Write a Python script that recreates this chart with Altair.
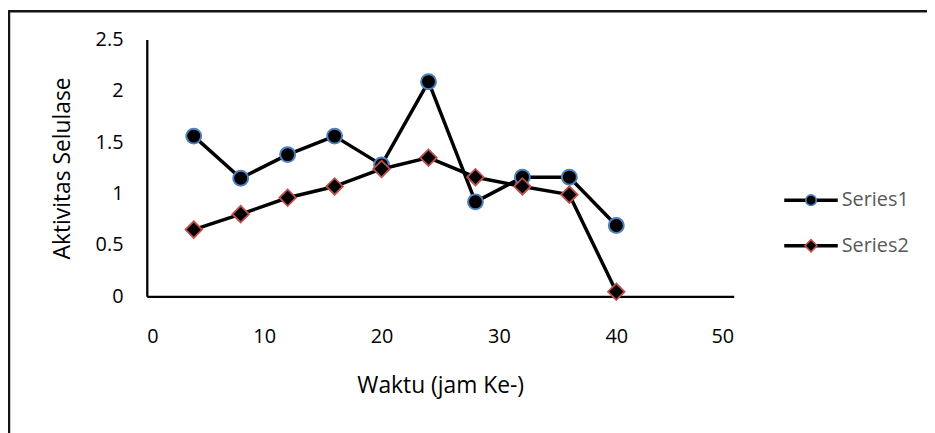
import altair as alt
import pandas as pd

# ---- data ----
hours = [4, 8, 12, 16, 20, 24, 28, 32, 36, 40]
series_names = ["Series1", "Series2"]
series1 = [1.56, 1.15, 1.38, 1.56, 1.28, 2.09, 0.92, 1.16, 1.16, 0.69]
series2 = [0.65, 0.80, 0.96, 1.07, 1.24, 1.35, 1.16, 1.07, 0.99, 0.045]
x_ticks = [0, 10, 20, 30, 40, 50]
y_ticks = [0, 0.5, 1, 1.5, 2, 2.5]
x_title = "Waktu (jam Ke-)"
y_title = "Aktivitas Selulase"

BLUE = "#4F81BD"
RED = "#C0504D"
FONT = "Open Sans"
W, H = 592, 259

df1 = pd.DataFrame({"hour": hours, "value": series1, "series": series_names[0]})
df2 = pd.DataFrame({"hour": hours, "value": series2, "series": series_names[1]})

x_enc = alt.X(
    "hour:Q",
    scale=alt.Scale(domain=[0, 50], nice=False, zero=False),
    axis=alt.Axis(
        values=x_ticks, title=x_title, grid=False, ticks=False, tickSize=0,
        domainColor="black", domainWidth=2.3,
        labelFont=FONT, labelFontSize=20, labelColor="black", labelPadding=31,
        titleFont=FONT, titleFontSize=23, titleFontWeight="normal", titleColor="black",
        titleX=W / 2, titleY=79, titleBaseline="top", titleAlign="center",
    ),
)
y_enc = alt.Y(
    "value:Q",
    scale=alt.Scale(domain=[0, 2.5], nice=False),
    axis=alt.Axis(
        values=y_ticks, title=y_title, grid=False, ticks=False, tickSize=0, format="~g",
        domainColor="black", domainWidth=2.3,
        labelFont=FONT, labelFontSize=20, labelColor="black", labelPadding=24,
        titleFont=FONT, titleFontSize=23, titleFontWeight="normal", titleColor="black",
        titleX=-78, titleY=H / 2, titleAngle=270, titleBaseline="alphabetic", titleAlign="center",
    ),
)

line1 = alt.Chart(df1).mark_line(color="black", strokeWidth=3.5, strokeJoin="round").encode(x=x_enc, y=y_enc)
pts1 = alt.Chart(df1).mark_point(
    shape="circle", filled=True, fill="black", stroke=BLUE, strokeWidth=2, size=227, opacity=1
).encode(x=x_enc, y=y_enc)
line2 = alt.Chart(df2).mark_line(color="black", strokeWidth=3.5, strokeJoin="round").encode(x=x_enc, y=y_enc)
pts2 = alt.Chart(df2).mark_point(
    shape="diamond", filled=True, fill="black", stroke=RED, strokeWidth=1.8, size=280, opacity=1
).encode(x=x_enc, y=y_enc)

# ---- legend (drawn manually like the Excel legend) ----
one = pd.DataFrame({"a": [0]})
leg = []
rows = [(series_names[0], 162, "circle", BLUE, 113), (series_names[1], 208, "diamond", RED, 150)]
for name, yy, shp, col, sz in rows:
    leg.append(alt.Chart(one).mark_rule(color="black", strokeWidth=3.5).encode(
        x=alt.value(643), x2=alt.value(697), y=alt.value(yy)))
    leg.append(alt.Chart(one).mark_point(
        shape=shp, filled=True, fill="black", stroke=col, strokeWidth=1.6, size=sz, opacity=1
    ).encode(x=alt.value(670), y=alt.value(yy)))
    leg.append(alt.Chart(pd.DataFrame({"s": [name]})).mark_text(
        align="left", baseline="middle", font=FONT, fontSize=20, color="#595959"
    ).encode(text="s:N", x=alt.value(701), y=alt.value(yy)))

# ---- outer frame (top and left edges visible in the reference) ----
frame_top = alt.Chart(one).mark_rule(color="#151515", strokeWidth=2.5).encode(
    x=alt.value(-140.25), x2=alt.value(800), y=alt.value(-28.5))
frame_left = alt.Chart(one).mark_rule(color="#151515", strokeWidth=2.5).encode(
    x=alt.value(-139), y=alt.value(-29.75), y2=alt.value(400))

chart = alt.layer(
    frame_top, frame_left, line1, pts1, line2, pts2, *leg
).properties(
    width=W, height=H,
    autosize=alt.AutoSizeParams(type="none"),
    padding={"left": 140, "top": 30, "right": 195, "bottom": 136},
    background="white",
).configure_view(stroke=None)

chart.save("out.html", embed_options={"renderer": "svg", "actions": False})
